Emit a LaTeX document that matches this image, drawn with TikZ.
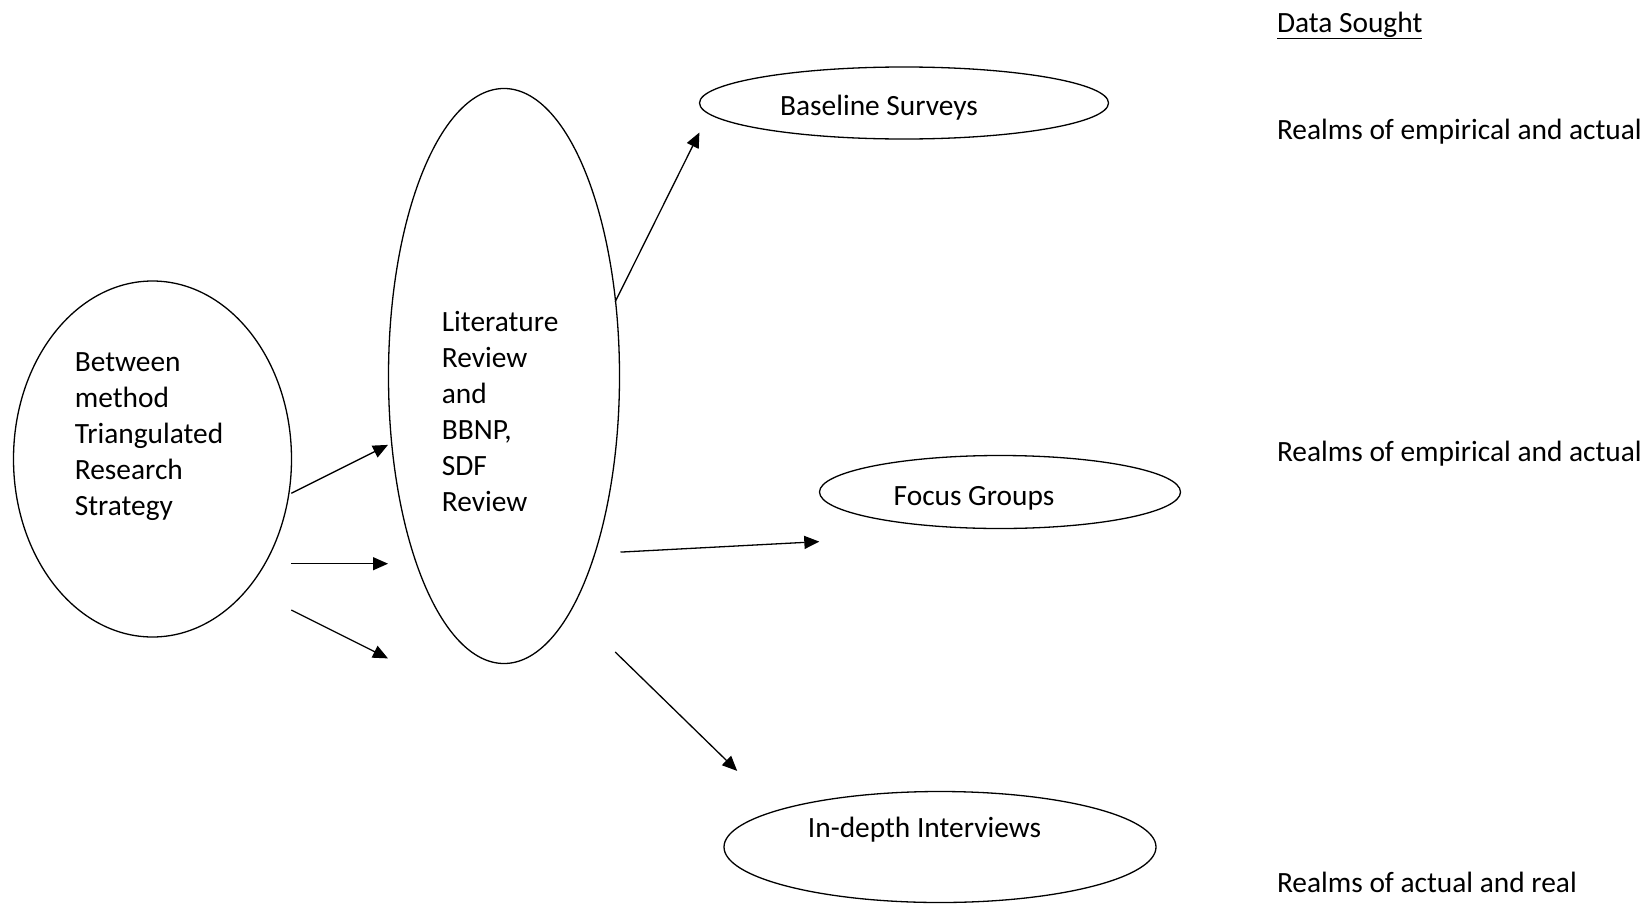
\documentclass[tikz,border=0pt]{standalone}
\usepackage{fontspec}
\setmainfont{Carlito}
\usetikzlibrary{arrows.meta,shapes.geometric}
\begin{document}
\begin{tikzpicture}[x=1bp,y=-1bp,
  oval/.style={draw=black,line width=1.3bp,ellipse,inner sep=0pt},
  txt/.style={inner sep=0pt,font=\fontsize{29.5}{36}\selectfont},
  conn/.style={line width=1.3bp,-{Triangle[length=15bp,width=13bp]}}]
\useasboundingbox (0,0) rectangle (1649,903);
% ellipses
\node[oval,minimum width=278bp,minimum height=356bp] (strat) at (152.5,459) {};
\node[oval,minimum width=231bp,minimum height=575bp] (lit) at (504,376) {};
\node[oval,minimum width=409bp,minimum height=72bp] (base) at (904,103) {};
\node[oval,minimum width=361bp,minimum height=73bp] (focus) at (1000,492) {};
\node[oval,minimum width=432bp,minimum height=111bp] (depth) at (940,847) {};
% texts
\node[txt,anchor=base west,align=left] (stratT) at (74.7,515) {Between\\method\\Triangulated\\Research\\Strategy};
\node[txt,anchor=base west,align=left] (litT) at (441.7,511) {Literature\\Review\\and\\BBNP,\\SDF\\Review};
\node[txt,anchor=base] (baseT) at (879,115) {Baseline Surveys};
\node[txt,anchor=base] (focusT) at (974,505.5) {Focus Groups};
\node[txt,anchor=base] (depthT) at (924.5,837) {In-depth Interviews};
\node[txt,anchor=base west] (sought) at (1276.8,32) {\underline{Data Sought}};
\node[txt,anchor=base west] (realm1) at (1276.8,139.5) {Realms of empirical and actual};
\node[txt,anchor=base west] (realm2) at (1276.8,461.3) {Realms of empirical and actual};
\node[txt,anchor=base west] (realm3) at (1276.8,892.5) {Realms of actual and real};
% connector ends
\coordinate (a1s) at (291.3,493.3); \coordinate (a1e) at (388,444.9);
\coordinate (a2s) at (291.3,563.7); \coordinate (a2e) at (388,563.7);
\coordinate (a3s) at (291.3,610);   \coordinate (a3e) at (388,658.4);
\coordinate (a4s) at (615.2,301.8); \coordinate (a4e) at (699.4,132.5);
\coordinate (a5s) at (620.5,552.1); \coordinate (a5e) at (819.3,541.6);
\coordinate (a6s) at (615.2,652);   \coordinate (a6e) at (737.2,770.9);
\draw[conn] (a1s) -- (a1e);
\draw[conn] (a2s) -- (a2e);
\draw[conn] (a3s) -- (a3e);
\draw[conn] (a4s) -- (a4e);
\draw[conn] (a5s) -- (a5e);
\draw[conn] (a6s) -- (a6e);
\end{tikzpicture}
\end{document}
